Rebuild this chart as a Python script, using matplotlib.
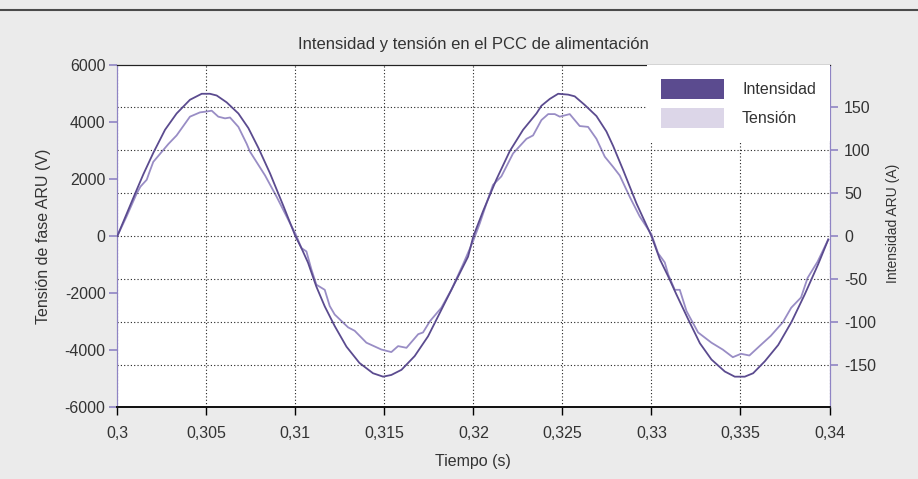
import matplotlib
matplotlib.use("Agg")
import matplotlib.pyplot as plt
from matplotlib.lines import Line2D
from matplotlib.patches import Patch

plt.rcParams['font.family'] = ['Liberation Sans', 'DejaVu Sans']

# Intensidad (A, right axis)
intensidad_t = [0.3, 0.30109, 0.30146, 0.30202, 0.30268, 0.30333, 0.30408, 0.30474,
                0.3052, 0.30558, 0.30614, 0.3068, 0.30736, 0.30792, 0.30858, 0.30933,
                0.31, 0.31034, 0.31071, 0.31118, 0.31165, 0.31221, 0.31287, 0.3136,
                0.31436, 0.31493, 0.31539, 0.31596, 0.3167, 0.31745, 0.3182, 0.31895,
                0.3197, 0.32, 0.32054, 0.32129, 0.32204, 0.32279, 0.32354, 0.32382,
                0.32429, 0.32476, 0.32532, 0.32569, 0.32625, 0.32691, 0.32747, 0.32785,
                0.32841, 0.32916, 0.33, 0.33047, 0.33094, 0.3314, 0.33206, 0.33272,
                0.33337, 0.33412, 0.33468, 0.33524, 0.33571, 0.33637, 0.33712, 0.33787,
                0.33861, 0.33936, 0.33993]
intensidad_a = [0, 54, 72, 97, 124, 143, 159, 166,
                166, 164, 156, 143, 126, 103, 73, 35,
                0, -14, -31, -59, -82, -105, -129, -148,
                -160, -164, -162, -156, -140, -117, -86, -55,
                -24, 0, 29, 66, 99, 124, 143, 152,
                160, 166, 165, 163, 153, 140, 122, 105,
                77, 38, 0, -27, -47, -68, -97, -125,
                -144, -158, -164, -164, -160, -146, -127, -100,
                -68, -33, -4]

# Tensión (V, left axis)
tension_t = [0.3, 0.30052, 0.30109, 0.3013, 0.30165, 0.30184, 0.30202, 0.30287,
             0.30333, 0.30408, 0.30464, 0.305, 0.3053, 0.30567, 0.30605, 0.30633,
             0.3068, 0.30727, 0.30745, 0.3083, 0.30895, 0.3097, 0.31, 0.31034,
             0.31062, 0.3109, 0.31118, 0.31165, 0.31193, 0.31221, 0.31296, 0.31333,
             0.31399, 0.31483, 0.31539, 0.31577, 0.31624, 0.3169, 0.31717, 0.31755,
             0.3182, 0.31876, 0.31942, 0.31998, 0.32036, 0.32073, 0.3211, 0.32157,
             0.32223, 0.32298, 0.32335, 0.32382, 0.3242, 0.32457, 0.32485, 0.32541,
             0.32597, 0.32644, 0.32691, 0.32738, 0.32785, 0.32822, 0.32878, 0.32934,
             0.33, 0.33037, 0.33075, 0.33094, 0.33131, 0.33159, 0.33197, 0.33262,
             0.33337, 0.334, 0.33457, 0.33503, 0.3355, 0.33607, 0.3367, 0.33738,
             0.33785, 0.3384, 0.33877, 0.33933, 0.33993]
tension_v = [0, 690, 1500, 1740, 1980, 2310, 2610, 3240,
             3540, 4200, 4350, 4380, 4410, 4200, 4140, 4170,
             3840, 3240, 2970, 2130, 1380, 450, 90, -420,
             -540, -1170, -1710, -1890, -2460, -2760, -3210, -3330,
             -3750, -3990, -4080, -3870, -3930, -3450, -3390, -3000,
             -2520, -1890, -990, -180, 450, 1140, 1800, 2100,
             2910, 3420, 3540, 4080, 4290, 4290, 4200, 4290,
             3870, 3840, 3420, 2790, 2430, 2130, 1380, 690,
             60, -600, -930, -1350, -1890, -1890, -2640, -3390,
             -3750, -3990, -4260, -4140, -4200, -3870, -3510, -3030,
             -2520, -2160, -1470, -900, -120]

x_ticks = [0.3, 0.305, 0.31, 0.315, 0.32, 0.325, 0.33, 0.335, 0.34]
x_labels = ['0,3', '0,305', '0,31', '0,315', '0,32', '0,325', '0,33', '0,335', '0,34']
v_ticks = [-6000, -4000, -2000, 0, 2000, 4000, 6000]
a_ticks = [-150, -100, -50, 0, 50, 100, 150]

dark = '#5b4b8f'
light = '#998dc5'
light_patch = '#dcd6e8'
spine_purple = '#8f84c4'
text_col = '#333333'
fs = 11.5

fig = plt.figure(figsize=(9.18, 4.79), dpi=100, facecolor='#ebebeb')
ax = fig.add_axes([0.1278, 0.151, 0.7758, 0.7123])
ax2 = ax.twinx()

# dark rule across the top of the figure
fig.add_artist(Line2D([0, 1], [0.979, 0.979], transform=fig.transFigure,
                      color='#4a4a4a', lw=1.5))

ax2.plot(intensidad_t, intensidad_a, color=dark, lw=1.3, zorder=3)
ax.plot(tension_t, tension_v, color=light, lw=1.3, zorder=3)

ax.set_xlim(0.3, 0.34)
ax.set_ylim(-6000, 6000)
ax2.set_ylim(-199, 199)

ax.set_xticks(x_ticks)
ax.set_xticklabels(x_labels)
ax.set_yticks(v_ticks)
ax.set_yticklabels([str(v) for v in v_ticks])
ax2.set_yticks(a_ticks)
ax2.set_yticklabels([str(a) for a in a_ticks])

ax.tick_params(axis='x', direction='out', length=6, width=1, color='black',
               labelsize=fs, labelcolor=text_col, pad=8)
ax.tick_params(axis='y', direction='out', length=5.5, width=1.2, color=spine_purple,
               labelsize=fs, labelcolor=text_col, pad=3)
ax2.tick_params(axis='y', direction='out', length=5.5, width=1.2, color=spine_purple,
                labelsize=fs, labelcolor=text_col, pad=5)

for a in (ax, ax2):
    a.spines['left'].set_color(spine_purple)
    a.spines['right'].set_color(spine_purple)
    a.spines['top'].set_color('#222222')
    a.spines['bottom'].set_color('#111111')
    a.spines['bottom'].set_linewidth(1.3)

ax.grid(axis='x', color='#222222', linestyle=(0, (1, 2)), lw=0.8)
ax2.grid(axis='y', color='#222222', linestyle=(0, (1, 2)), lw=0.8)

ax.set_xlabel('Tiempo (s)', fontsize=fs, color=text_col, labelpad=9)
ax.set_ylabel('Tensión de fase ARU (V)', fontsize=fs, color=text_col, labelpad=10)
ax2.set_ylabel('Intensidad ARU (A)', fontsize=10, color=text_col)
ax2.yaxis.set_label_coords(1.080, 0.538)
ax.set_title('Intensidad y tensión en el PCC de alimentación', fontsize=12,
             color=text_col, pad=12)

handles = [Patch(facecolor=dark, edgecolor='none', label='Intensidad'),
           Patch(facecolor=light_patch, edgecolor='none', label='Tensión')]
leg = ax2.legend(handles=handles, loc='upper right', bbox_to_anchor=(1, 1),
                 borderaxespad=0, borderpad=0.85, fontsize=fs, handlelength=4.0,
                 handleheight=1.5, handletextpad=1.1, labelspacing=0.6,
                 frameon=True, fancybox=False, facecolor='white', edgecolor='none',
                 framealpha=1)
for t in leg.get_texts():
    t.set_color(text_col)

fig.savefig('out.png', dpi=100, facecolor=fig.get_facecolor())
